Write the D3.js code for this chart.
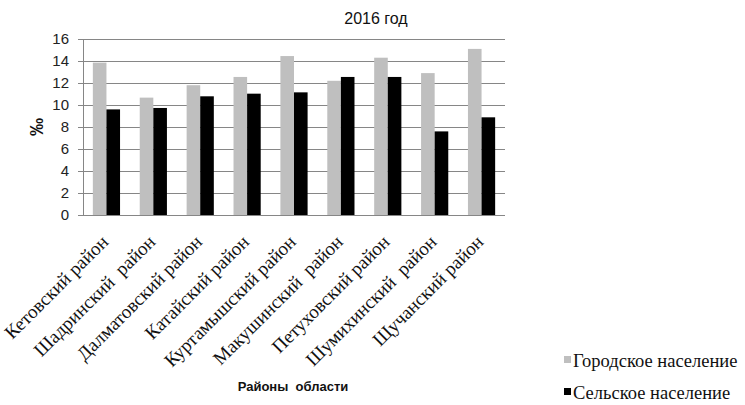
<!DOCTYPE html>
<html>
<head>
<meta charset="utf-8">
<script src="https://cdn.jsdelivr.net/npm/d3@7"></script>
<style>
  html, body { margin: 0; padding: 0; background: #fff; }
  svg { display: block; }
</style>
</head>
<body>
<svg id="chart" width="745" height="405"></svg>
<script>
// Районы области
const districts = [
  "Кетовский район", "Шадринский  район", "Далматовский район", "Катайский район",
  "Куртамышский район", "Макушинский  район", "Петуховский район",
  "Шумихинский  район", "Щучанский район"
];
// Рождаемость, ‰
const urban = [13.85, 10.67, 11.8, 12.55, 14.45, 12.2, 14.3, 12.9, 15.1];
const rural = [9.6, 9.73, 10.79, 11.03, 11.15, 12.55, 12.55, 7.6, 8.88];
const seriesNames = ["Городское население", "Сельское население"];
const seriesColors = ["#bfbfbf", "#000000"];
const yTicks = [0, 2, 4, 6, 8, 10, 12, 14, 16];

const svg = d3.select("#chart");
const plot = { left: 83, right: 505, top: 39, bottom: 215 };

const x0 = d3.scaleBand().domain(districts).range([plot.left, plot.right]).paddingInner(0.42).paddingOuter(0.21);
const x1 = d3.scaleBand().domain([0, 1]).range([0, x0.bandwidth()]);
const y = d3.scaleLinear().domain([0, 16]).range([plot.bottom, plot.top]);

// Сетка и ось Y
const yAxis = svg.append("g")
  .attr("transform", `translate(${plot.left},0)`)
  .call(d3.axisLeft(y).tickValues(yTicks).tickSize(5).tickPadding(9));
yAxis.select(".domain").attr("stroke", "#868686");
yAxis.selectAll(".tick line").attr("stroke", "#868686");
yAxis.selectAll(".tick text")
  .attr("font-family", "'Liberation Sans', Arial, sans-serif")
  .attr("font-size", 15).attr("fill", "#222");

svg.append("g").selectAll("line")
  .data(yTicks)
  .join("line")
  .attr("x1", plot.left).attr("x2", plot.right)
  .attr("y1", d => y(d) + 0.5).attr("y2", d => y(d) + 0.5)
  .attr("stroke", "#868686").attr("stroke-width", 1);

// Столбцы
const rows = districts.map((d, i) => ({ district: d, values: [urban[i], rural[i]] }));
svg.append("g").selectAll("g")
  .data(rows)
  .join("g")
  .attr("transform", d => `translate(${x0(d.district)},0)`)
  .selectAll("rect")
  .data(d => d.values.map((v, k) => ({ v, k })))
  .join("rect")
  .attr("x", d => x1(d.k))
  .attr("width", x1.bandwidth())
  .attr("y", d => y(d.v))
  .attr("height", d => y(0) - y(d.v))
  .attr("fill", d => seriesColors[d.k]);

// Подписи районов
svg.append("g").selectAll("text")
  .data(districts)
  .join("text")
  .attr("transform", d => `translate(${x0(d) + x0.bandwidth() / 2 + 3},${243}) rotate(-45)`)
  .attr("text-anchor", "end")
  .attr("font-family", "'Liberation Serif', 'Times New Roman', serif")
  .attr("font-size", 19)
  .attr("fill", "#111")
  .attr("xml:space", "preserve")
  .text(d => d);

// Заголовок
svg.append("text")
  .attr("x", 376).attr("y", 24)
  .attr("text-anchor", "middle")
  .attr("font-family", "'Liberation Sans', Arial, sans-serif")
  .attr("font-size", 16).attr("fill", "#111")
  .text("2016 год");

// Подпись оси Y
svg.append("text")
  .attr("transform", "translate(43,127) rotate(-90)")
  .attr("text-anchor", "middle")
  .attr("font-family", "'Liberation Sans', Arial, sans-serif")
  .attr("font-size", 18).attr("font-weight", "bold").attr("fill", "#111")
  .text("‰");

// Подпись оси X
svg.append("text")
  .attr("x", 293).attr("y", 391)
  .attr("text-anchor", "middle")
  .attr("font-family", "'Liberation Sans', Arial, sans-serif")
  .attr("font-size", 13).attr("font-weight", "bold").attr("fill", "#111")
  .attr("xml:space", "preserve")
  .text("Районы  области");

// Легенда
const legend = svg.append("g").selectAll("g")
  .data(seriesNames)
  .join("g")
  .attr("transform", (d, i) => `translate(564,${361 + i * 32})`);
legend.append("rect")
  .attr("x", 0).attr("y", -5).attr("width", 7).attr("height", 7)
  .attr("fill", (d, i) => seriesColors[i]);
legend.append("text")
  .attr("x", 9).attr("y", 6)
  .attr("font-family", "'Liberation Serif', 'Times New Roman', serif")
  .attr("font-size", 18.5).attr("fill", "#111")
  .text(d => d);
</script>
</body>
</html>
